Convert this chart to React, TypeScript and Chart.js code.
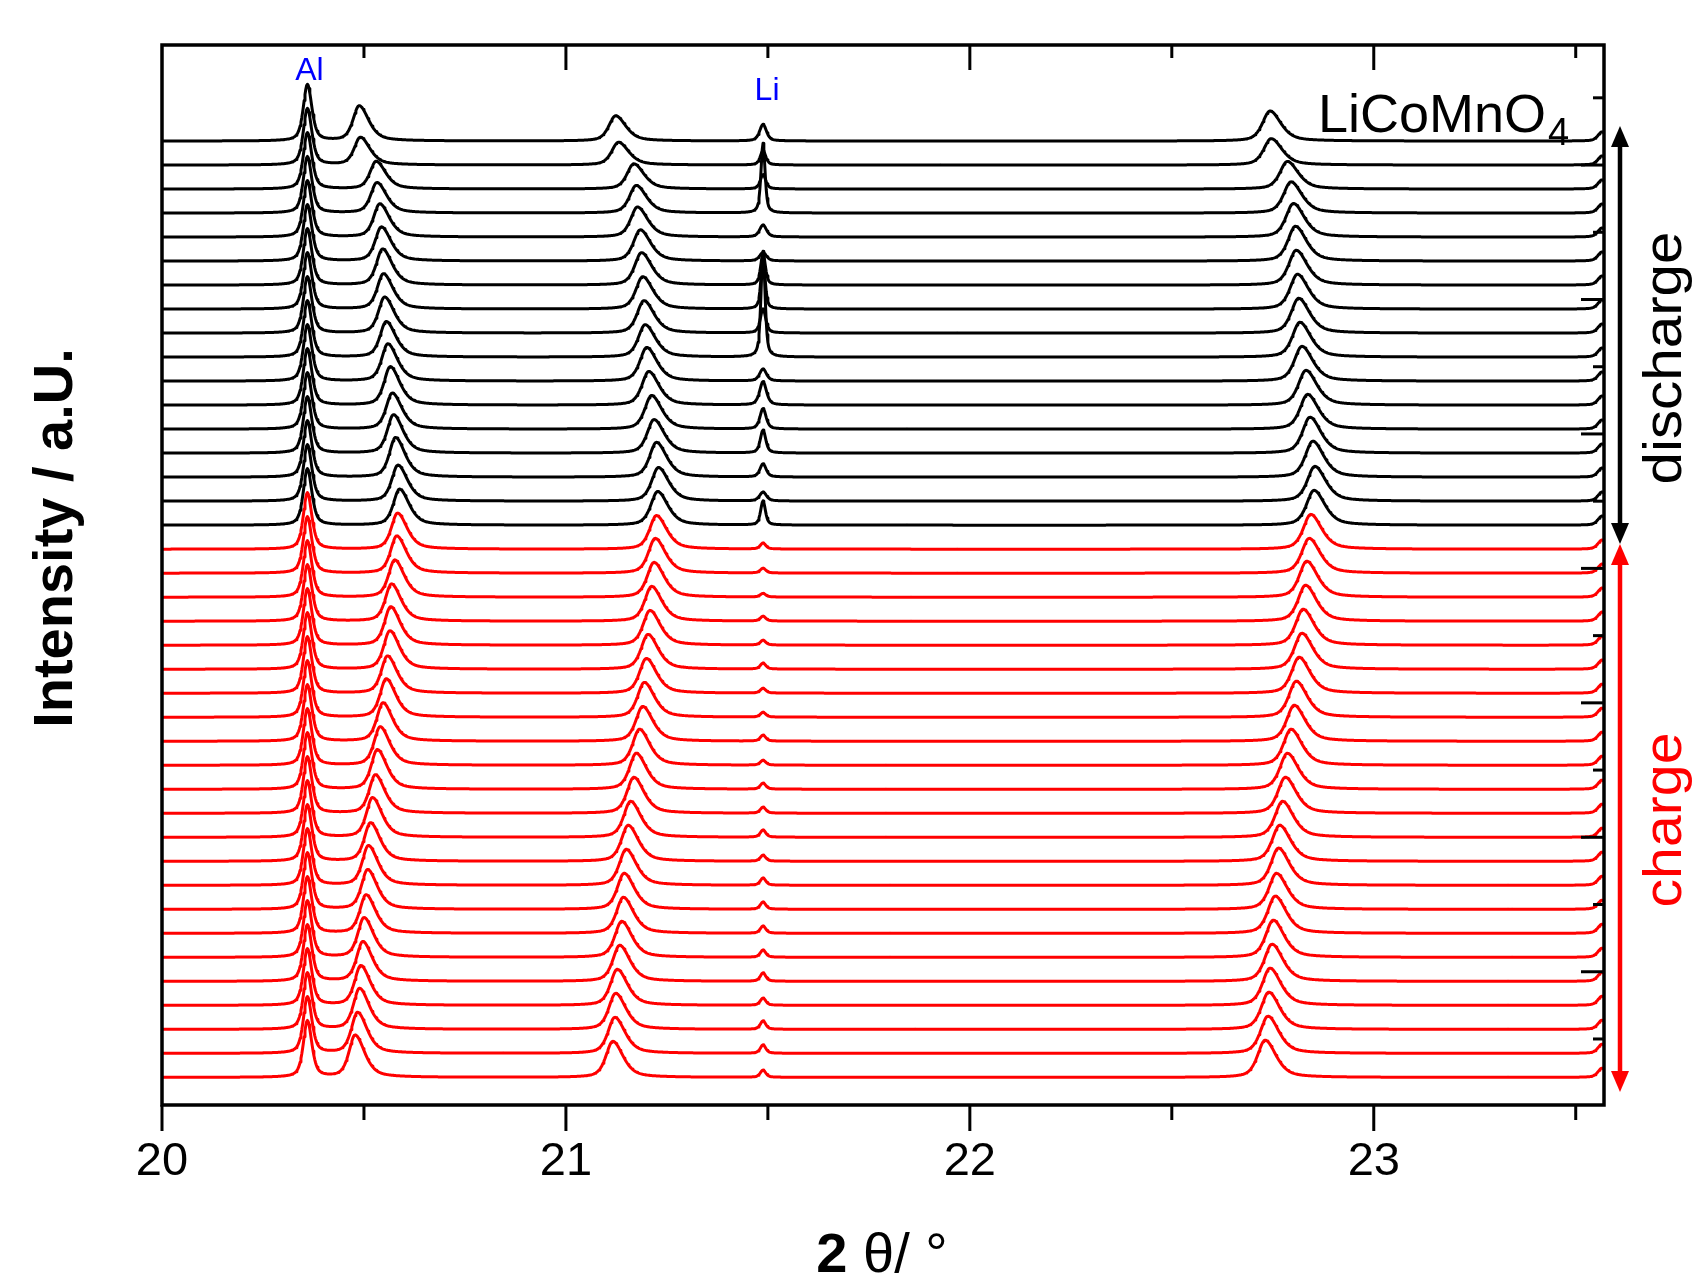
import { useEffect, useRef } from 'react';
import { Chart, registerables } from 'chart.js';

Chart.register(...registerables);

// ---------- axis / scale definitions ----------
const X_MIN = 20;
const X_MAX = 23.57;
const X_MAJOR = [20, 21, 22, 23];
const X_MINOR = [20.5, 21.5, 22.5, 23.5];
const Y_MIN = 50;
const Y_MAX = 44200;
const Y_TICKS = [2800, 5600, 8400, 11200, 14000, 16800, 19600, 22400, 25200, 28000, 30800, 33600, 36400, 39200, 42000];

// ---------- scans (index 0 = top trace) ----------
const N_DISCHARGE = 17; // black traces (top)
const N_CHARGE = 23; // red traces (bottom)
const STACK_OFFSET = 1000; // vertical offset between stacked scans (counts)
const BASELINE = 1200; // baseline of the bottom scan (counts)

// Al current collector reflection
const AL_POS = 20.36;
const AL_HEIGHT = 2350;

// Li metal reflection
const LI_POS = 21.488;
const LI_HEIGHT = [
  690, 600, 600, 2900, 500, 350, 1300, 2200, 1000, 4400, 500, 970, 850, 950, 550, 370, 1000,
  250, 200, 150, 200, 200, 250, 200, 200, 250, 200, 250, 250, 300, 250, 300, 300, 300, 300, 350, 300, 350, 350, 300,
];
const LI_HWHM = [
  0.010, 0.008, 0.008, 0.006, 0.010, 0.010, 0.007, 0.006, 0.008, 0.006, 0.010, 0.010, 0.009, 0.008, 0.009, 0.010, 0.007,
  0.008, 0.008, 0.008, 0.008, 0.008, 0.008, 0.008, 0.008, 0.008, 0.008, 0.008, 0.008, 0.008, 0.008, 0.008, 0.008, 0.008, 0.008, 0.008, 0.008, 0.008, 0.008, 0.008,
];

// LiCoMnO4 reflection near 20.5°
const PEAK_A_POS = [
  20.488, 20.491, 20.530, 20.532, 20.539, 20.543, 20.546, 20.548, 20.551, 20.555, 20.559, 20.565, 20.570, 20.573, 20.578, 20.584, 20.588,
  20.583, 20.581, 20.576, 20.568, 20.566, 20.564, 20.558, 20.555, 20.547, 20.540, 20.533, 20.528, 20.521, 20.516, 20.511, 20.509, 20.505, 20.500, 20.497, 20.492, 20.489, 20.484, 20.478,
];
const PEAK_A_HEIGHT = [
  1460, 1150, 1150, 1270, 1380, 1420, 1500, 1470, 1500, 1480, 1550, 1600, 1500, 1600, 1650, 1500, 1500,
  1500, 1550, 1550, 1550, 1600, 1600, 1550, 1600, 1600, 1600, 1650, 1600, 1650, 1600, 1650, 1650, 1600, 1650, 1650, 1650, 1700, 1700, 1750,
];

// LiCoMnO4 reflection near 21.2°
const PEAK_B_POS = [
  21.123, 21.130, 21.168, 21.174, 21.177, 21.184, 21.187, 21.190, 21.193, 21.196, 21.200, 21.205, 21.212, 21.218, 21.224, 21.229, 21.227,
  21.224, 21.221, 21.218, 21.212, 21.208, 21.203, 21.199, 21.194, 21.190, 21.182, 21.174, 21.168, 21.160, 21.154, 21.149, 21.144, 21.142, 21.138, 21.133, 21.127, 21.123, 21.121, 21.116,
];
const PEAK_B_HEIGHT = [
  1050, 950, 1050, 1150, 1250, 1300, 1350, 1350, 1350, 1350, 1400, 1400, 1400, 1400, 1450, 1400, 1400,
  1400, 1450, 1450, 1450, 1450, 1450, 1450, 1450, 1450, 1500, 1500, 1500, 1500, 1500, 1500, 1500, 1500, 1500, 1500, 1500, 1500, 1500, 1500,
];

// LiCoMnO4 reflection near 22.8°
const PEAK_C_POS = [
  22.743, 22.746, 22.786, 22.795, 22.801, 22.806, 22.808, 22.811, 22.814, 22.817, 22.822, 22.832, 22.836, 22.842, 22.849, 22.854, 22.852,
  22.844, 22.840, 22.834, 22.831, 22.825, 22.822, 22.815, 22.808, 22.803, 22.795, 22.786, 22.781, 22.774, 22.767, 22.764, 22.759, 22.756, 22.751, 22.748, 22.743, 22.740, 22.738, 22.731,
];
const PEAK_C_HEIGHT = [
  1250, 1100, 1150, 1300, 1400, 1450, 1450, 1450, 1450, 1450, 1450, 1450, 1450, 1500, 1500, 1450, 1450,
  1450, 1450, 1500, 1500, 1500, 1500, 1500, 1500, 1500, 1500, 1500, 1500, 1500, 1500, 1550, 1500, 1550, 1550, 1550, 1550, 1550, 1550, 1550,
];

// reflection just beyond the right edge
const EDGE_POS = 23.565;
const EDGE_HEIGHT = 380;

const SCAN_COLORS = [
  ...Array(N_DISCHARGE).fill('#000000'),
  ...Array(N_CHARGE).fill('#ff0000'),
];

// peak shape widths (half widths, °2θ): [left, right]
const W_AL = [0.012, 0.013];
const W_A = [0.018, 0.028];
const W_B = [0.020, 0.030];
const W_C = [0.022, 0.032];
const W_EDGE = [0.012, 0.012];
const SAMPLE_STEP = 0.002;

const FONT = '"Liberation Sans", Arial, Helvetica, sans-serif';

function pseudoVoigt(x: number, c: number, h: number, w: number[]) {
  const hw = x < c ? w[0] : w[1];
  const t = (x - c) / hw;
  return h * (0.55 / (1 + t * t) + 0.45 * Math.exp(-0.6931 * t * t));
}

function buildScan(i: number) {
  const n = N_DISCHARGE + N_CHARGE;
  const base = BASELINE + STACK_OFFSET * (n - 1 - i);
  const pts: { x: number; y: number }[] = [];
  const steps = Math.round((X_MAX - X_MIN) / SAMPLE_STEP);
  for (let k = 0; k <= steps; k++) {
    const x = X_MIN + k * SAMPLE_STEP;
    let y = base;
    y += pseudoVoigt(x, AL_POS, AL_HEIGHT, W_AL);
    y += pseudoVoigt(x, PEAK_A_POS[i], PEAK_A_HEIGHT[i], W_A);
    y += pseudoVoigt(x, PEAK_B_POS[i], PEAK_B_HEIGHT[i], W_B);
    y += pseudoVoigt(x, LI_POS, LI_HEIGHT[i], [LI_HWHM[i], LI_HWHM[i]]);
    y += pseudoVoigt(x, PEAK_C_POS[i], PEAK_C_HEIGHT[i], W_C);
    y += pseudoVoigt(x, EDGE_POS, EDGE_HEIGHT, W_EDGE);
    pts.push({ x, y });
  }
  return pts;
}

function line(ctx: CanvasRenderingContext2D, x1: number, y1: number, x2: number, y2: number) {
  ctx.beginPath();
  ctx.moveTo(x1, y1);
  ctx.lineTo(x2, y2);
  ctx.stroke();
}

function doubleArrow(ctx: CanvasRenderingContext2D, x: number, yTop: number, yBot: number, color: string) {
  const hl = 21;
  const hw = 9;
  ctx.strokeStyle = color;
  ctx.fillStyle = color;
  ctx.lineWidth = 4.5;
  line(ctx, x, yTop + hl - 2, x, yBot - hl + 2);
  ctx.beginPath();
  ctx.moveTo(x, yTop);
  ctx.lineTo(x - hw, yTop + hl);
  ctx.lineTo(x + hw, yTop + hl);
  ctx.closePath();
  ctx.fill();
  ctx.beginPath();
  ctx.moveTo(x, yBot);
  ctx.lineTo(x - hw, yBot - hl);
  ctx.lineTo(x + hw, yBot - hl);
  ctx.closePath();
  ctx.fill();
}

function rotatedText(ctx: CanvasRenderingContext2D, text: string, x: number, y: number, font: string, color: string, stretch = 1) {
  ctx.save();
  ctx.translate(x, y);
  ctx.rotate(-Math.PI / 2);
  ctx.scale(stretch, 1);
  ctx.font = font;
  ctx.fillStyle = color;
  ctx.textAlign = 'center';
  ctx.textBaseline = 'alphabetic';
  ctx.fillText(text, 0, 0);
  ctx.restore();
}

const decorPlugin = {
  id: 'decor',
  afterDraw(chart: any) {
    const { ctx, chartArea: a, scales } = chart;
    const xs = scales.x;
    const ys = scales.y;
    ctx.save();
    // frame
    ctx.strokeStyle = '#000';
    ctx.lineWidth = 3.5;
    ctx.strokeRect(a.left, a.top, a.right - a.left, a.bottom - a.top);
    // x ticks: outward at bottom, inward at top
    ctx.lineWidth = 3;
    X_MAJOR.forEach((v) => {
      const px = xs.getPixelForValue(v);
      line(ctx, px, a.bottom, px, a.bottom + 26);
      if (v > X_MIN) line(ctx, px, a.top, px, a.top + 25);
    });
    X_MINOR.forEach((v) => {
      const px = xs.getPixelForValue(v);
      line(ctx, px, a.bottom, px, a.bottom + 15);
      line(ctx, px, a.top, px, a.top + 13);
    });
    // y ticks: inward on the right side
    Y_TICKS.forEach((v) => {
      const py = ys.getPixelForValue(v);
      const len = v % 5600 === 0 ? 23 : 11;
      line(ctx, a.right, py, a.right - len, py);
    });

    // axis titles
    rotatedText(ctx, 'Intensity / a.U.', 72, 538, `bold 56px ${FONT}`, '#000');
    ctx.fillStyle = '#000';
    ctx.textBaseline = 'alphabetic';
    ctx.textAlign = 'left';
    const boldPart = '2';
    const regPart = ' \u03b8/ \u00b0';
    ctx.font = `bold 56px ${FONT}`;
    const w1 = ctx.measureText(boldPart).width;
    ctx.font = `56px ${FONT}`;
    const w2 = ctx.measureText(regPart).width;
    const sx = 882 - (w1 + w2) / 2;
    ctx.font = `bold 56px ${FONT}`;
    ctx.fillText(boldPart, sx, 1272);
    ctx.font = `56px ${FONT}`;
    ctx.fillText(regPart, sx + w1, 1272);

    // compound label
    ctx.font = `54px ${FONT}`;
    const main = 'LiCoMnO';
    ctx.fillText(main, 1318, 132);
    const wm = ctx.measureText(main).width;
    ctx.font = `38px ${FONT}`;
    ctx.fillText('4', 1318 + wm + 2, 145);

    // reflection labels
    ctx.fillStyle = '#0000ff';
    ctx.font = `32px ${FONT}`;
    ctx.textAlign = 'center';
    ctx.fillText('Al', xs.getPixelForValue(AL_POS) + 2, 80);
    ctx.fillText('Li', xs.getPixelForValue(LI_POS) + 4, 100);

    // arrows and process labels
    doubleArrow(ctx, 1620, 126, 544, '#000000');
    doubleArrow(ctx, 1620, 544, 1092, '#ff0000');
    rotatedText(ctx, 'discharge', 1681, 358, `54px ${FONT}`, '#000000', 1.08);
    rotatedText(ctx, 'charge', 1681, 820, `54px ${FONT}`, '#ff0000', 1.06);
    ctx.restore();
  },
};

export default function App() {
  const ref = useRef<HTMLCanvasElement | null>(null);
  useEffect(() => {
    const canvas = ref.current;
    if (!canvas) return;
    const n = N_DISCHARGE + N_CHARGE;
    const datasets = [];
    for (let i = 0; i < n; i++) {
      datasets.push({
        data: buildScan(i),
        borderColor: SCAN_COLORS[i],
        borderWidth: 3,
        borderJoinStyle: 'round',
        pointRadius: 0,
        fill: false,
        tension: 0,
        parsing: false,
        normalized: true,
      });
    }
    const chart = new Chart(canvas, {
      type: 'line',
      data: { datasets } as any,
      options: {
        animation: false,
        responsive: false,
        devicePixelRatio: 1,
        events: [],
        layout: { padding: { left: 162, top: 45, right: 93, bottom: 0 } },
        plugins: { legend: { display: false }, tooltip: { enabled: false } },
        scales: {
          x: {
            type: 'linear',
            min: X_MIN,
            max: X_MAX,
            grid: { display: false, drawTicks: false },
            border: { display: false },
            afterBuildTicks: (axis: any) => {
              axis.ticks = X_MAJOR.map((v) => ({ value: v }));
            },
            afterFit: (axis: any) => {
              axis.height = 180;
            },
            ticks: {
              color: '#000',
              font: { family: FONT, size: 47 },
              padding: 29,
              maxRotation: 0,
              autoSkip: false,
            },
          },
          y: { type: 'linear', display: false, min: Y_MIN, max: Y_MAX },
        },
      } as any,
      plugins: [decorPlugin],
    });
    return () => chart.destroy();
  }, []);
  return (
    <div style={{ position: 'fixed', left: 0, top: 0, width: 1697, height: 1285, background: '#fff' }}>
      <canvas ref={ref} width={1697} height={1285} style={{ width: 1697, height: 1285, display: 'block' }} />
    </div>
  );
}
